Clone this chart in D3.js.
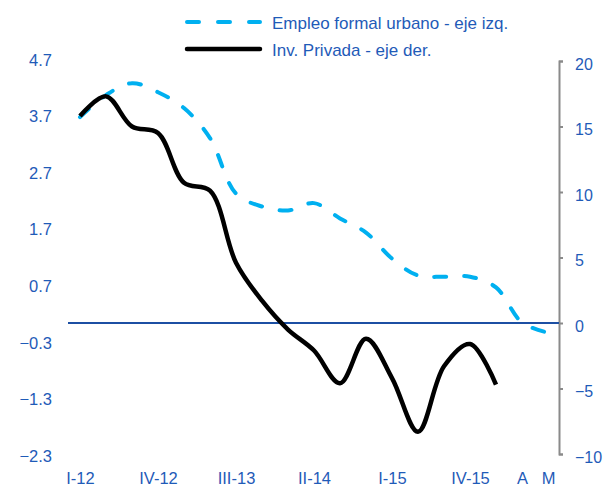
<!DOCTYPE html>
<html>
<head>
<meta charset="utf-8">
<script src="https://cdn.jsdelivr.net/npm/d3@7/dist/d3.min.js"></script>
<style>
  body { margin: 0; background: #fff; }
  svg { display: block; font-family: "Liberation Sans", Arial, sans-serif; }
</style>
</head>
<body>
<svg id="chart" width="603" height="486"></svg>
<script>
const categories = [
  'I-12', 'II-12', 'III-12', 'IV-12',
  'I-13', 'II-13', 'III-13', 'IV-13',
  'I-14', 'II-14', 'III-14', 'IV-14',
  'I-15', 'II-15', 'III-15', 'IV-15',
  'I-16', 'A', 'M',
]
const shownLabels = ['I-12', 'IV-12', 'III-13', 'II-14', 'I-15', 'IV-15', 'A', 'M']

// Empleo formal urbano (eje izq.)
const empleo = [3.69, 4.08, 4.29, 4.13, 3.85, 3.32, 2.34, 2.11, 2.04, 2.17,
  1.9, 1.65, 1.19, 0.89, 0.87, 0.87, 0.68, 0.06, -0.12]
// Inv. Privada (eje der.), sin dato para A y M
const inversion = [15.8, 17.3, 15.0, 14.5, 10.7, 10.1, 4.6, 1.7, -0.5, -2.1,
  -4.6, -1.2, -4.2, -8.3, -3.3, -1.6, -4.7]

const leftTicks = [4.7, 3.7, 2.7, 1.7, 0.7, -0.3, -1.3, -2.3]
const rightTicks = [20, 15, 10, 5, 0, -5, -10]

const legendItems = [
  {label: 'Empleo formal urbano - eje izq.', dashed: true},
  {label: 'Inv. Privada - eje der.', dashed: false},
]

const blueText = '#1f5bb8'
const cyan = '#00b0f0'
const fontFamily = '"Liberation Sans", Arial, sans-serif'

const svg = d3.select('#chart')

const plotTop = 61
const plotBottom = 455

const x = d3.scalePoint().domain(categories).range([80, 548])
const yLeft = d3.scaleLinear().domain([-2.3, 4.7]).range([plotBottom + 1, plotTop - 1])
const yRight = d3.scaleLinear().domain([-10, 20]).range([plotBottom - 1, plotTop])

const styleText = g => g.selectAll('text')
  .attr('fill', blueText)
  .attr('font-size', 16.5)
  .attr('font-family', fontFamily)

// eje izquierdo: solo etiquetas
svg.append('g')
  .attr('transform', 'translate(52,0)')
  .call(d3.axisLeft(yLeft).tickValues(leftTicks).tickSize(0).tickPadding(0)
    .tickFormat(d3.format('.1f')))
  .call(g => g.select('.domain').remove())
  .call(styleText)

// eje derecho
svg.append('g')
  .attr('transform', 'translate(559,0)')
  .call(d3.axisRight(yRight).tickValues(rightTicks).tickSize(4).tickSizeOuter(4).tickPadding(12))
  .call(g => g.select('.domain').attr('stroke', '#8a8a8a').attr('stroke-width', 2))
  .call(g => g.selectAll('line').attr('stroke', '#8a8a8a').attr('stroke-width', 2))
  .call(styleText)
  .call(g => g.selectAll('text').attr('dy', '0.5em').attr('font-size', 16))

// eje x: etiquetas cada tres trimestres
svg.append('g')
  .attr('transform', 'translate(0,472)')
  .call(d3.axisBottom(x).tickValues(shownLabels).tickSize(0).tickPadding(0))
  .call(g => g.select('.domain').remove())
  .call(styleText)

// linea de cero
svg.append('line')
  .attr('x1', 68)
  .attr('x2', 559)
  .attr('y1', yRight(0))
  .attr('y2', yRight(0))
  .attr('stroke', '#1c4fa3')
  .attr('stroke-width', 2)

const curve = d3.curveCatmullRom.alpha(0.5)

svg.append('path')
  .datum(empleo)
  .attr('fill', 'none')
  .attr('stroke', cyan)
  .attr('stroke-width', 4)
  .attr('stroke-linecap', 'round')
  .attr('stroke-dasharray', '12,18')
  .attr('d', d3.line()
    .x((d, i) => x(categories[i]))
    .y(d => yLeft(d))
    .curve(curve))

svg.append('path')
  .datum(inversion)
  .attr('fill', 'none')
  .attr('stroke', '#000')
  .attr('stroke-width', 4.5)
  .attr('d', d3.line()
    .x((d, i) => x(categories[i]))
    .y(d => yRight(d))
    .curve(curve))

// leyenda
const legend = svg.append('g')
  .selectAll('g')
  .data(legendItems)
  .join('g')
  .attr('transform', (d, i) => `translate(0,${22 + i * 27})`)

legend.append('line')
  .attr('x1', 187)
  .attr('x2', 260)
  .attr('stroke', d => (d.dashed ? cyan : '#000'))
  .attr('stroke-width', d => (d.dashed ? 4 : 4.5))
  .attr('stroke-linecap', 'round')
  .attr('stroke-dasharray', d => (d.dashed ? '12,19' : null))

legend.append('text')
  .attr('x', 272)
  .attr('y', 1)
  .attr('dy', '0.35em')
  .attr('fill', blueText)
  .attr('font-size', 17)
  .text(d => d.label)
</script>
</body>
</html>
